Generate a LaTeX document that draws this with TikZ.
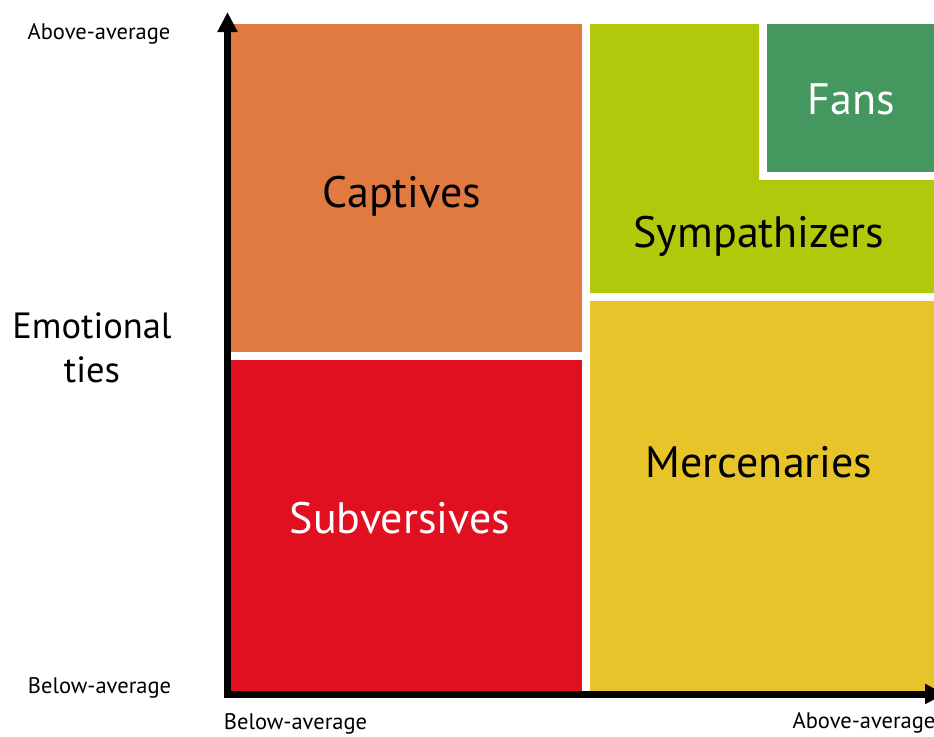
\documentclass[tikz,border=0pt]{standalone}
\usepackage{fontspec}
\setmainfont{PT Sans}
\usetikzlibrary{arrows.meta}
\definecolor{cOrange}{RGB}{224,122,64}
\definecolor{cRed}{RGB}{224,16,32}
\definecolor{cLime}{RGB}{176,201,10}
\definecolor{cGreen}{RGB}{67,151,95}
\definecolor{cYellow}{RGB}{230,196,42}
\tikzset{
  small/.style={font=\fontsize{22.5}{26}\selectfont, anchor=base, inner sep=0pt},
  big/.style={font=\fontsize{44}{52}\selectfont, anchor=base, inner sep=0pt},
  axis/.style={line width=7pt, -{Triangle[length=20pt,width=19pt]}}
}
\begin{document}
\begin{tikzpicture}[x=1pt,y=-1pt]
\useasboundingbox (0,0) rectangle (934,736);
\clip (0,0) rectangle (934,736);
% blocks
\fill[cOrange] (231,24) rectangle (582,352);
\fill[cRed] (231,360) rectangle (582,691);
\fill[cLime] (590,24) -- (759,24) -- (759,180) -- (940,180) -- (940,293) -- (590,293) -- cycle;
\fill[cGreen] (767,24) rectangle (940,172);
\fill[cYellow] (590,301) rectangle (940,691);
% labels
\node[big] (captives) at (402,207) {Captives};
\node[big, text=white] (subversives) at (400,533) {Subversives};
\node[big] (sympathizers) at (759,247) {Sympathizers};
\node[big] (mercenaries) at (759,477) {Mercenaries};
\node[big, text=white] (fans) at (851,114) {Fans};
\node[font=\fontsize{36.5}{44}\selectfont, align=center, anchor=base, inner sep=0pt] (emo) at (92,382) {Emotional\\ties};
\node[small] (ytop) at (99,39) {Above-average};
\node[small] (ybot) at (99.5,693) {Below-average};
\node[small] (xleft) at (295.5,729) {Below-average};
\node[small] (xright) at (864,728) {Above-average};
% axes
\coordinate (origin) at (227.5,694);
\coordinate (ytip) at (227.5,12);
\coordinate (xtip) at (945,694);
\draw[axis] ([yshift=3.5pt]origin) -- (ytip);
\draw[axis] ([xshift=-3.5pt]origin) -- (xtip);
\end{tikzpicture}
\end{document}
